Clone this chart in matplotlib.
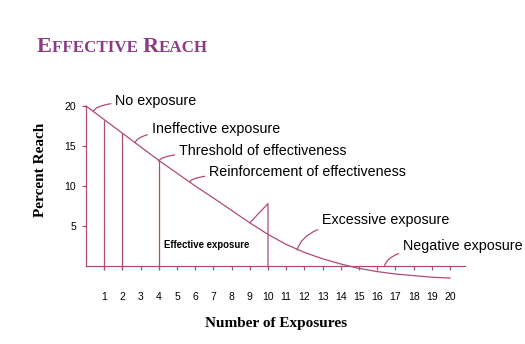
import numpy as np
import matplotlib
matplotlib.use("Agg")
from matplotlib import pyplot as plt

# percent reach for 0..20 exposures
exposures = np.arange(0, 21)
reach = [20.0, 18.3, 16.6, 14.9, 13.2, 11.6, 10.0, 8.5, 6.95, 5.4, 3.95,
         2.7, 1.7, 0.9, 0.25, -0.3, -0.7, -1.0, -1.2, -1.4, -1.5]

# drop lines at the marked exposure levels
marked_x = [1, 2, 4]
# wedge at 10 exposures
wedge_x = [9.0, 10, 10]
wedge_y = [5.4, 7.8, 0]

xticks = list(range(1, 21))
yticks = [5, 10, 15, 20]

# (label, point on the curve, text position)
labels = [
    ("No exposure", (0.4, 19.3), (1.6, 20.6)),
    ("Ineffective exposure", (2.7, 15.4), (3.6, 17.1)),
    ("Threshold of effectiveness", (4.0, 13.1), (5.1, 14.4)),
    ("Reinforcement of effectiveness", (5.7, 10.5), (6.75, 11.75)),
    ("Excessive exposure", (11.6, 2.0), (12.95, 5.75)),
    ("Negative exposure", (16.4, 0.0), (17.4, 2.5)),
]

line_col = '#b04a78'
title_col = '#8c3a88'

fig = plt.figure(figsize=(5.25, 3.44), dpi=100)
ax = fig.add_axes([86 / 525, 58 / 344, 382.2 / 525, 192 / 344])
ax.set_xlim(0, 21)
ax.set_ylim(-2.5, 21.5)

ax.plot(exposures, reach, color=line_col, lw=0.9, clip_on=False)
ax.vlines(marked_x, -0.35, [reach[x] for x in marked_x], color=line_col, lw=0.9)
ax.plot(wedge_x, wedge_y, color=line_col, lw=0.9)
ax.vlines([10], -0.35, 0, color=line_col, lw=0.9)

for side in ['top', 'right']:
    ax.spines[side].set_visible(False)
ax.spines['bottom'].set_position(('data', 0))
ax.spines['bottom'].set_bounds(0, 20.8)
ax.spines['left'].set_bounds(0, 20)
for side in ['bottom', 'left']:
    ax.spines[side].set_color(line_col)
    ax.spines[side].set_linewidth(0.9)

ax.set_xticks(xticks)
ax.set_yticks(yticks)
ax.tick_params(axis='x', direction='out', length=3, width=0.9, color=line_col,
               pad=16, labelsize=7.5)
ax.tick_params(axis='y', direction='out', length=3, width=0.9, color=line_col,
               pad=4, labelsize=7.5)
for t in ax.get_xticklabels() + ax.get_yticklabels():
    t.set_family('Liberation Sans')

for text, xy, xytext in labels:
    ax.annotate(text, xy=xy, xytext=xytext, ha='left', va='center',
                fontsize=10.3, family='Liberation Sans',
                arrowprops=dict(arrowstyle='-', color=line_col, lw=0.9,
                                shrinkA=1, shrinkB=0,
                                connectionstyle='angle3,angleA=0,angleB=75'))

ax.text(6.62, 2.6, "Effective exposure", ha='center', va='center',
        fontsize=6.9, fontweight='bold', family='Liberation Sans')

fig.text(41 / 525, 1 - 170 / 344, "Percent Reach", rotation=90, ha='center',
         va='center', fontsize=11, fontweight='bold', family='Liberation Serif')
fig.text(276 / 525, 1 - 324 / 344, "Number of Exposures", ha='center',
         va='center', fontsize=11, fontweight='bold', family='Liberation Serif')

# small-caps title built from pieces
renderer = fig.canvas.get_renderer()
x_px = 37
for piece, size in [("E", 16), ("FFECTIVE ", 12.2), ("R", 16), ("EACH", 12.2)]:
    t = fig.text(x_px / 525, 1 - 52 / 344, piece, ha='left', va='baseline',
                 fontsize=size, fontweight='bold', family='Liberation Serif',
                 color=title_col)
    x_px += t.get_window_extent(renderer).width

fig.savefig('out.png', dpi=100)
